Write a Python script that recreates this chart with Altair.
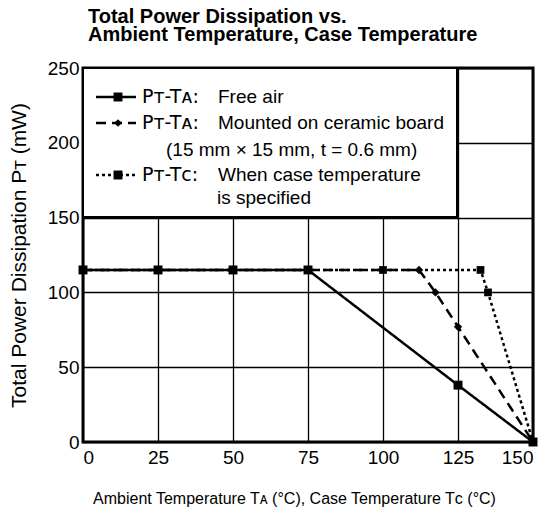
import altair as alt
import pandas as pd

FONT = "Liberation Sans, DejaVu Sans"
KEYFONT = "DejaVu Sans"

# ---- data ----
series_names = ["Free air", "Ceramic board", "Case temperature"]
free_x = [0, 25, 50, 75, 125, 150]
free_y = [115, 115, 115, 115, 38, 0]
ceramic_x = [0, 112, 117.5, 125, 150]
ceramic_y = [115, 115, 100, 77, 0]
case_x = [0, 100, 132.5, 135, 150]
case_y = [115, 115, 115, 100, 0]

x_ticks = [0, 25, 50, 75, 100, 125, 150]
y_ticks = [0, 50, 100, 150, 200, 250]

title_lines = ["Total Power Dissipation vs.", "Ambient Temperature, Case Temperature"]
x_title = "Ambient Temperature T\u1d00 (\u00b0C), Case Temperature T\u1d04 (\u00b0C)"
y_title = "Total Power Dissipation P\u1d1b (mW)"

legend_keys = ["P\u1d1b-T\u1d00:", "P\u1d1b-T\u1d00:", "P\u1d1b-T\u1d04:"]
legend_descs = ["Free air", "Mounted on ceramic board", "When case temperature"]
legend_extra = ["", "(15 mm \u00d7 15 mm, t = 0.6 mm)", "is specified"]

# ---- build table ----
rows = []
for name, xs, ys in [(series_names[0], free_x, free_y),
                     (series_names[1], ceramic_x, ceramic_y),
                     (series_names[2], case_x, case_y)]:
    for xv, yv in zip(xs, ys):
        rows.append({"series": name, "x": xv, "y": yv})
df = pd.DataFrame(rows)

dash_range = [[1, 0], [10, 6], [3, 3]]
shape_range = ["square", "diamond", "square"]
size_range = [80, 60, 80]

xenc = alt.X("x:Q", scale=alt.Scale(domain=[0, 150], nice=False),
             axis=alt.Axis(values=x_ticks, title=x_title, titleX=211, titleY=48,
                           titleFontSize=16))
yenc = alt.Y("y:Q", scale=alt.Scale(domain=[0, 250], nice=False),
             axis=alt.Axis(values=y_ticks, title=y_title, titleX=-54, titleY=187,
                           titleFontSize=21))

lines = alt.Chart(df).mark_line(color="black", strokeWidth=2.5).encode(
    x=xenc, y=yenc,
    strokeDash=alt.StrokeDash("series:N", scale=alt.Scale(domain=series_names, range=dash_range), legend=None),
    detail="series:N",
)
points = alt.Chart(df).mark_point(filled=True, color="black", opacity=1).encode(
    x="x:Q", y="y:Q",
    shape=alt.Shape("series:N", scale=alt.Scale(domain=series_names, range=shape_range), legend=None),
    size=alt.Size("series:N", scale=alt.Scale(domain=series_names, range=size_range), legend=None),
)

one = pd.DataFrame({"k": [0]})
layers = [lines, points]

# legend box
layers.append(alt.Chart(one).mark_rect(fill="white", stroke="black", strokeWidth=2).encode(
    x=alt.value(0), x2=alt.value(374), y=alt.value(0), y2=alt.value(149)))

row_y = [29, 55, 82, 107, 130]
sym_rows = [29, 55, 107]
for i in range(3):
    yy = sym_rows[i]
    layers.append(alt.Chart(one).mark_rule(color="black", strokeWidth=2.5, strokeDash=dash_range[i]).encode(
        x=alt.value(13), x2=alt.value(53), y=alt.value(yy)))
    layers.append(alt.Chart(one).mark_point(filled=True, color="black", opacity=1, size=size_range[i], shape=shape_range[i]).encode(
        x=alt.value(35), y=alt.value(yy)))
    layers.append(alt.Chart(one).mark_text(align="left", baseline="middle", font=KEYFONT, fontSize=19, color="black").encode(
        x=alt.value(59), y=alt.value(yy), text=alt.value(legend_keys[i])))
    layers.append(alt.Chart(one).mark_text(align="left", baseline="middle", font=FONT, fontSize=19, color="black").encode(
        x=alt.value(135), y=alt.value(yy), text=alt.value(legend_descs[i])))

layers.append(alt.Chart(one).mark_text(align="left", baseline="middle", font=FONT, fontSize=19, color="black").encode(
    x=alt.value(83), y=alt.value(row_y[2]), text=alt.value(legend_extra[1])))
layers.append(alt.Chart(one).mark_text(align="left", baseline="middle", font=FONT, fontSize=19, color="black").encode(
    x=alt.value(134), y=alt.value(row_y[4]), text=alt.value(legend_extra[2])))

chart = alt.layer(*layers).properties(
    width=450, height=374,
    padding={"left": 75, "top": 60, "right": 9, "bottom": 75},
    autosize=alt.AutoSizeParams(type="none"),
    title=alt.TitleParams(text=title_lines, anchor="start", frame="group", dx=5, offset=14,
                          font=FONT, fontSize=20, fontWeight="bold", color="black", lineHeight=18),
).configure_view(stroke="black", strokeWidth=3).configure_axis(
    grid=True, gridColor="black", gridWidth=1.3, gridOpacity=1,
    domain=False, ticks=False,
    labelFont=FONT, labelFontSize=19, labelColor="black", labelPadding=6,
    titleFont=FONT, titleFontWeight="normal", titleColor="black",
).configure_axisY(labelPadding=4)

chart.save("out.html", embed_options={"renderer": "svg", "actions": False})
